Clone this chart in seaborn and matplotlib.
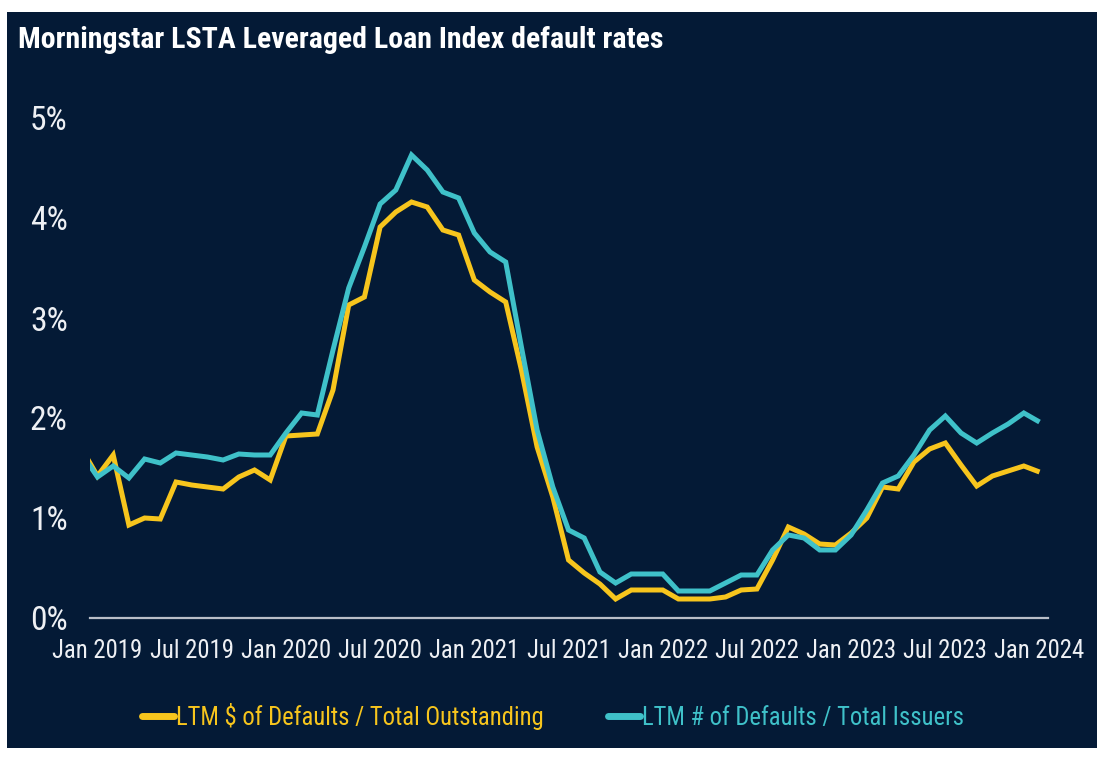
import numpy as np
import pandas as pd
import matplotlib
matplotlib.use("Agg")
import matplotlib.pyplot as plt
import seaborn as sns
from matplotlib.patches import Rectangle
from matplotlib.lines import Line2D
from matplotlib import font_manager as fm
from matplotlib.font_manager import FontProperties
from matplotlib.textpath import TextPath

# ---------------- data (monthly, Dec 2018 .. Jan 2024) ----------------
months = pd.date_range("2018-12-01", "2024-01-01", freq="MS")

dollar_rate = [1.69,
               1.42, 1.63, 0.93, 1.00, 0.99, 1.36, 1.33, 1.31, 1.29, 1.41, 1.48, 1.38,
               1.82, 1.83, 1.84, 2.28, 3.13, 3.21, 3.91, 4.06, 4.16, 4.11, 3.88, 3.83,
               3.38, 3.26, 3.16, 2.48, 1.71, 1.21, 0.58, 0.45, 0.34, 0.19, 0.28, 0.28,
               0.28, 0.19, 0.19, 0.19, 0.21, 0.28, 0.29, 0.58, 0.91, 0.84, 0.74, 0.73,
               0.85, 1.00, 1.31, 1.29, 1.56, 1.69, 1.75, 1.53, 1.32, 1.42, 1.47, 1.52,
               1.46]

issuer_rate = [1.64,
               1.41, 1.52, 1.40, 1.59, 1.55, 1.65, 1.63, 1.61, 1.58, 1.64, 1.63, 1.63,
               1.85, 2.05, 2.03, 2.68, 3.30, 3.71, 4.14, 4.28, 4.63, 4.48, 4.26, 4.20,
               3.85, 3.66, 3.56, 2.71, 1.88, 1.31, 0.88, 0.80, 0.46, 0.35, 0.44, 0.44,
               0.44, 0.27, 0.27, 0.27, 0.35, 0.43, 0.43, 0.68, 0.83, 0.80, 0.68, 0.68,
               0.83, 1.08, 1.35, 1.42, 1.63, 1.88, 2.02, 1.85, 1.75, 1.85, 1.94, 2.05,
               1.96]

series_names = ["LTM $ of Defaults / Total Outstanding",
                "LTM # of Defaults / Total Issuers"]

ytick_values = [0, 1, 2, 3, 4, 5]
ytick_labels = ["0%", "1%", "2%", "3%", "4%", "5%"]

xtick_months = ["2019-01", "2019-07", "2020-01", "2020-07", "2021-01", "2021-07",
                "2022-01", "2022-07", "2023-01", "2023-07", "2024-01"]

title = "Morningstar LSTA Leveraged Loan Index default rates"

# ---------------- styling ----------------
NAVY = "#041a36"
GOLD = "#f7c51d"
TEAL = "#3fc1c9"
AXIS = "#b9bec8"
TEXT = "#eef0f4"

sns.set_style("dark")


def pick_font():
    entries = fm.fontManager.ttflist
    names = {f.name for f in entries}
    for nm in ["Liberation Sans Narrow", "Arial Narrow", "Roboto Condensed",
               "Open Sans Condensed", "Noto Sans Condensed", "DejaVu Sans Condensed"]:
        if nm in names:
            return nm, "normal"
    for fam in ["Noto Sans", "Open Sans", "DejaVu Sans", "Roboto"]:
        for f in entries:
            if f.name == fam and str(f.stretch) in ("condensed", "semi-condensed",
                                                     "extra-condensed"):
                return fam, "condensed"
    return "Liberation Sans", "normal"


FAMILY, STRETCH = pick_font()
plt.rcParams["font.family"] = [FAMILY, "Liberation Sans", "DejaVu Sans"]
plt.rcParams["font.stretch"] = STRETCH


def fit_size(text, target_px, weight="normal"):
    fp = FontProperties(family=[FAMILY, "Liberation Sans"], stretch=STRETCH, weight=weight)
    w = TextPath((0, 0), text, size=10, prop=fp).get_extents().width  # points at 10pt
    return 10 * target_px * 72 / 100 / w


xtick_fs = fit_size("Jan 2024", 89)
ytick_fs = fit_size("5%", 34)
legend_fs = fit_size(series_names[0], 365)
title_fs = fit_size(title, 642, weight="bold")

base = pd.Timestamp("2019-01-01")


def month_index(ts):
    ts = pd.Timestamp(ts)
    return (ts.year - base.year) * 12 + (ts.month - base.month)


t = np.array([month_index(m) for m in months], dtype=float)
df = pd.DataFrame({
    "t": np.concatenate([t, t]),
    "rate": list(dollar_rate) + list(issuer_rate),
    "series": [series_names[0]] * len(t) + [series_names[1]] * len(t),
})

W, H = 1102, 758
fig = plt.figure(figsize=(W / 100, H / 100), dpi=100)
fig.patch.set_facecolor("white")
fig.add_artist(Rectangle((7 / W, 10 / H), 1090 / W, 736 / H, transform=fig.transFigure,
                         facecolor=NAVY, edgecolor="none", zorder=0))

ax = fig.add_axes([90 / W, 140 / H, 958 / W, 500 / H])
ax.set_facecolor("none")

sns.lineplot(data=df, x="t", y="rate", hue="series", hue_order=series_names,
             palette=[GOLD, TEAL], linewidth=3.6, estimator=None, sort=False,
             legend=False, ax=ax)
for ln in ax.get_lines():
    ln.set_solid_joinstyle("miter")
    ln.set_solid_capstyle("butt")

ax.set_xlim(-0.478, 60.54)
ax.set_ylim(0, 5)
ax.grid(False)
for s in ("left", "top", "right"):
    ax.spines[s].set_visible(False)
ax.spines["bottom"].set_color(AXIS)
ax.spines["bottom"].set_linewidth(1.6)

ax.set_yticks(ytick_values)
ax.set_yticklabels(ytick_labels)
ax.set_xticks([month_index(m) for m in xtick_months])
ax.set_xticklabels([pd.Timestamp(m).strftime("%b %Y") for m in xtick_months])
ax.tick_params(axis="both", length=0, colors=TEXT)
ax.tick_params(axis="x", labelsize=xtick_fs, pad=15)
ax.tick_params(axis="y", labelsize=ytick_fs, pad=16)
ax.set_xlabel("")
ax.set_ylabel("")

fig.text(18 / W, 1 - 40 / H, title, fontsize=title_fs, fontweight="bold", color="white",
         va="center", ha="left")

handles = [Line2D([], [], color=GOLD, lw=5, solid_capstyle="round"),
           Line2D([], [], color=TEAL, lw=5, solid_capstyle="round")]
leg = fig.legend(handles, series_names, loc="center", bbox_to_anchor=(553 / W, 1 - 716 / H),
                 ncol=2, frameon=False, fontsize=legend_fs, handlelength=1.3,
                 handletextpad=0.1, columnspacing=2.6)
for txt, c in zip(leg.get_texts(), [GOLD, TEAL]):
    txt.set_color(c)

fig.savefig("out.png", dpi=100, facecolor=fig.get_facecolor())
